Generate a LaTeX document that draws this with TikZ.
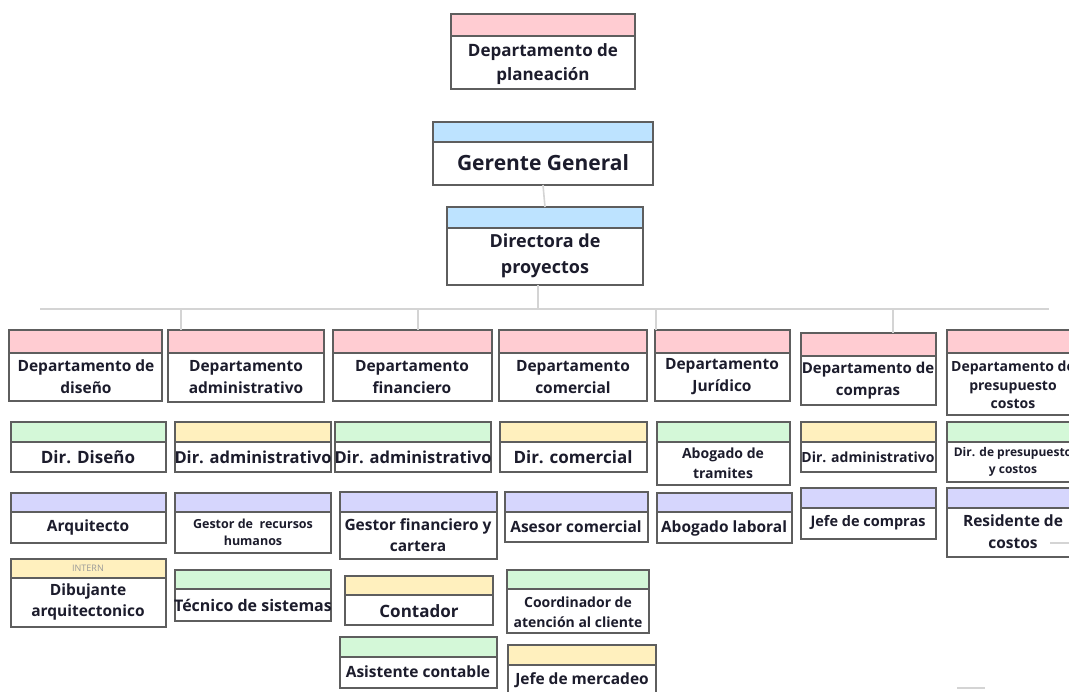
\documentclass[tikz,border=0pt]{standalone}
\usepackage{fontspec}
\setmainfont{Open Sans}
\definecolor{hpink}{HTML}{FFCCD2}
\definecolor{hblue}{HTML}{BDE3FF}
\definecolor{hgreen}{HTML}{D4F8D8}
\definecolor{hyellow}{HTML}{FFF0BE}
\definecolor{hlav}{HTML}{D6D6FD}
\definecolor{bordercol}{HTML}{5E5E5E}
\definecolor{txtcol}{HTML}{1C1C2C}
\definecolor{linkcol}{HTML}{D4D4D4}
\newcommand\fs[2]{\fontsize{#1}{#2}\selectfont}
% name, x1, y1, x2, y2, y header, header colour
\newcommand\ob[7]{%
  \fill[white] (#2,#3) rectangle (#4,#5);
  \fill[#7] (#2,#3) rectangle (#4,#6);
  \draw[boxline] (#2,#6) -- (#4,#6);
  \node[boxnode, minimum width={#4-#2}, minimum height={#5-#3}] (#1) at ({(#2+#4)/2},{(#3+#5)/2}) {};
}
% name, cx, cy, font, text
\newcommand\ot[5]{\node[txt, font=#4] (#1) at (#2,#3) {#5};}
\begin{document}
\begin{tikzpicture}[x=1pt,y=-1pt,
  boxline/.style={draw=bordercol, line width=1.2pt},
  boxnode/.style={rectangle, draw=bordercol, line width=1.2pt, inner sep=0pt, outer sep=0pt},
  txt/.style={text=txtcol, align=center, inner sep=0pt},
  link/.style={draw=linkcol, line width=1.6pt}]
\useasboundingbox (0,0) rectangle (1069,692);

% connectors
\coordinate (barL) at (40,309);
\coordinate (barR) at (1049,309);
\coordinate (barC) at (538,309);
\coordinate (d1) at (181,309);
\coordinate (d2) at (418,309);
\coordinate (d3) at (656,309);
\coordinate (d4) at (893,309);
\draw[link] (barL) -- (barR);

% top
\ob{plan}{451}{14}{635}{89}{36}{hpink}
\ot{plant}{543}{64}{\fs{17}{24}\bfseries}{Departamento de\\planeación}
\ob{ger}{433}{122}{653}{185}{142}{hblue}
\ot{gert}{543}{163}{\fs{21}{26}\bfseries}{Gerente General}
\ob{dirp}{447}{207}{643}{285}{228}{hblue}
\ot{dirpt}{545}{256}{\fs{18}{26}\bfseries}{Directora de\\proyectos}

% departments
\ob{dis}{9}{330}{162}{401}{353}{hpink}
\ot{dist}{86}{377}{\fs{15.5}{22}\bfseries}{Departamento de\\diseño}
\ob{adm}{168}{330}{324}{402}{353}{hpink}
\ot{admt}{246}{377}{\fs{15.5}{22}\bfseries}{Departamento\\administrativo}
\ob{fin}{333}{330}{492}{401}{353}{hpink}
\ot{fint}{412}{377}{\fs{15.5}{22}\bfseries}{Departamento\\financiero}
\ob{com}{499}{330}{647}{401}{353}{hpink}
\ot{comt}{573}{377}{\fs{15.5}{22}\bfseries}{Departamento\\comercial}
\ob{jur}{655}{330}{790}{401}{353}{hpink}
\ot{jurt}{722}{377}{\fs{15.5}{22}\bfseries}{Departamento\\Jurídico}
\ob{cmp}{801}{333}{936}{405}{356}{hpink}
\ot{cmpt}{868}{381}{\fs{15}{22}\bfseries}{Departamento de\\compras}
\ob{pre}{947}{330}{1079}{415}{353}{hpink}
\ot{pret}{1013}{385}{\fs{14}{18.5}\bfseries}{Departamento de\\presupuesto\\costos}

\draw[link] (dirp.south -| barC) -- (barC);
\draw[link] (ger.south) -- (dirp.north);
\draw[link] (d1) -- (d1 |- adm.north);
\draw[link] (d2) -- (d2 |- fin.north);
\draw[link] (d3) -- (d3 |- jur.north);
\draw[link] (d4) -- (d4 |- cmp.north);

% row 2
\ob{ddis}{11}{422}{166}{472}{442}{hgreen}
\ot{ddist}{88}{457}{\fs{17}{22}\bfseries}{Dir. Diseño}
\ob{dadm}{175}{422}{331}{472}{442}{hyellow}
\ot{dadmt}{253}{457}{\fs{16.5}{22}\bfseries}{Dir. administrativo}
\ob{dfin}{335}{422}{491}{472}{442}{hgreen}
\ot{dfint}{413}{457}{\fs{16.5}{22}\bfseries}{Dir. administrativo}
\ob{dcom}{500}{422}{647}{472}{442}{hyellow}
\ot{dcomt}{573}{457}{\fs{17}{22}\bfseries}{Dir. comercial}
\ob{abt}{657}{422}{790}{485}{442}{hgreen}
\ot{abtt}{723}{463}{\fs{14}{20}\bfseries}{Abogado de\\tramites}
\ob{dcmp}{801}{422}{936}{472}{442}{hyellow}
\ot{dcmpt}{868}{457}{\fs{14}{20}\bfseries}{Dir. administrativo}
\ob{dpre}{947}{422}{1079}{482}{442}{hgreen}
\ot{dpret}{1013}{462}{\fs{12}{17}\bfseries}{Dir. de presupuesto\\y costos}

% row 3
\ob{arq}{11}{493}{166}{543}{512}{hlav}
\ot{arqt}{88}{527}{\fs{15.5}{22}\bfseries}{Arquitecto}
\ob{grh}{175}{493}{331}{553}{512}{hlav}
\ot{grht}{253}{532}{\fs{12.5}{17}\bfseries}{Gestor de\ \ recursos\\humanos}
\ob{gfin}{340}{492}{497}{559}{512}{hlav}
\ot{gfint}{418}{535}{\fs{15.5}{21}\bfseries}{Gestor financiero y\\cartera}
\ob{ase}{505}{492}{648}{542}{512}{hlav}
\ot{aset}{576}{527}{\fs{15.5}{22}\bfseries}{Asesor comercial}
\ob{abl}{657}{493}{792}{543}{512}{hlav}
\ot{ablt}{724}{528}{\fs{15.5}{22}\bfseries}{Abogado laboral}
\ob{jcmp}{801}{488}{936}{539}{508}{hlav}
\ot{jcmpt}{868}{523}{\fs{14.5}{20}\bfseries}{Jefe de compras}
\ob{res}{947}{488}{1079}{557}{508}{hlav}
\ot{rest}{1013}{532}{\fs{15.5}{22}\bfseries}{Residente de\\costos}

% row 4
\ob{dib}{11}{559}{166}{627}{578}{hyellow}
\node[txt, text=black!40, font=\fs{9}{11}] (intern) at (88,568) {INTERN};
\ot{dibt}{88}{602}{\fs{15.5}{21}\bfseries}{Dibujante\\arquitectonico}
\ob{tec}{175}{570}{331}{621}{589}{hgreen}
\ot{tect}{253}{605}{\fs{16}{22}\bfseries}{Técnico de sistemas}
\ob{cont}{345}{576}{493}{625}{595}{hyellow}
\ot{contt}{419}{611}{\fs{17}{22}\bfseries}{Contador}
\ob{coor}{507}{570}{649}{633}{589}{hgreen}
\ot{coort}{578}{612}{\fs{14}{20}\bfseries}{Coordinador de\\atención al cliente}

% row 5
\ob{asis}{340}{637}{497}{688}{657}{hgreen}
\ot{asist}{418}{672}{\fs{15.5}{22}\bfseries}{Asistente contable}
\ob{jmer}{508}{645}{656}{702}{665}{hyellow}
\ot{jmert}{582}{680}{\fs{15.5}{22}\bfseries}{Jefe de mercadeo}

% stray connector ends
\coordinate (s1) at (1069,543);
\draw[link, line width=1.2pt] (s1) -- ++(-19,0);
\coordinate (s2) at (957,688);
\draw[link, line width=1.2pt] (s2) -- ++(28,0);
\end{tikzpicture}
\end{document}
